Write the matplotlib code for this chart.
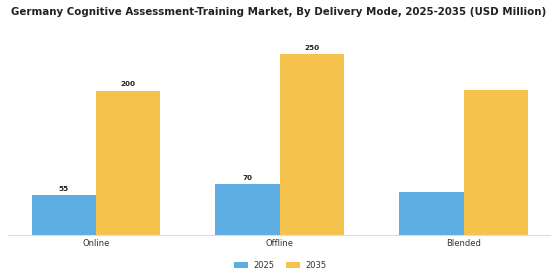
import matplotlib
matplotlib.use('Agg')
import matplotlib.pyplot as plt
import numpy as np

categories = ['Online', 'Offline', 'Blended']
values_2025 = [55, 70, 60]
values_2035 = [200, 250, 201]
labels_2025 = ['55', '70', '']
labels_2035 = ['200', '250', '']

blue = '#5DADE2'
yellow = '#F5C24C'


def main():
    fig = plt.figure(figsize=(5.6, 2.8), dpi=100)
    ax = fig.add_axes([0.014, 0.161, 0.968, 0.696])

    x = np.arange(len(categories))
    w = 0.35
    b1 = ax.bar(x - w / 2, values_2025, w, color=blue, label='2025')
    b2 = ax.bar(x + w / 2, values_2035, w, color=yellow, label='2035')

    for bars, labels in [(b1, labels_2025), (b2, labels_2035)]:
        for bar, lab in zip(bars, labels):
            if lab:
                ax.text(bar.get_x() + bar.get_width() / 2, bar.get_height() + 5, lab,
                        ha='center', va='bottom', fontsize=5.2, fontweight='bold', color='#222222')

    ax.set_xlim(-0.48, 2.47)
    ax.set_ylim(0, 270)
    ax.set_xticks(x)
    ax.set_xticklabels(categories, fontsize=6, color='#333333')
    ax.tick_params(axis='x', length=0, pad=3)
    ax.set_yticks([])
    for s in ['top', 'right', 'left']:
        ax.spines[s].set_visible(False)
    ax.spines['bottom'].set_color('#dddddd')
    ax.spines['bottom'].set_linewidth(0.8)

    fig.text(0.019, 0.958, 'Germany Cognitive Assessment-Training Market, By Delivery Mode, 2025-2035 (USD Million)',
             ha='left', va='center', fontsize=7.4, fontweight='bold', color='#222222')

    fig.legend(handles=[b1, b2], loc='center', bbox_to_anchor=(0.5, 0.052), ncol=2, frameon=False,
               fontsize=6, handlelength=1.7, handleheight=0.6, handletextpad=0.6, columnspacing=1.4,
               labelcolor='#333333')

    fig.savefig('out.png', dpi=100)


if __name__ == '__main__':
    main()
